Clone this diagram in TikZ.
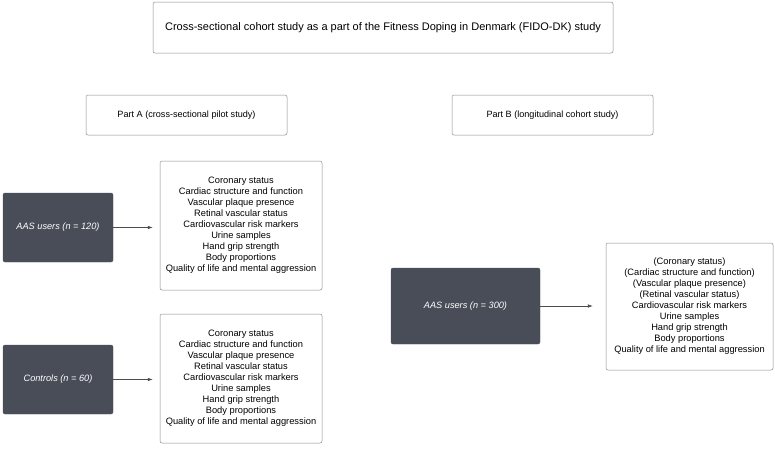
\documentclass[tikz,border=0pt]{standalone}
\usepackage{fontspec}
\setmainfont{Liberation Sans}
\usetikzlibrary{calc,positioning,arrows.meta}
\definecolor{groupfill}{HTML}{484D57}
\definecolor{boxline}{HTML}{8A8A8A}
\begin{document}
\begin{tikzpicture}[x=1pt,y=-1pt,
  every node/.style={align=center,inner sep=2pt},
  whitebox/.style={draw=boxline,rounded corners=2pt,fill=white,line width=0.5pt},
  groupbox/.style={draw=groupfill,fill=groupfill,rounded corners=2pt,text=white,font=\fontsize{9.2}{11}\selectfont\itshape,minimum width=110pt,minimum height=69pt},
  listbox/.style={whitebox,font=\fontsize{9.3}{11}\selectfont,minimum width=162pt,minimum height=129pt},
  flow/.style={-{Latex[length=5pt,width=3.5pt]},draw=black!70,line width=0.5pt}]
\useasboundingbox (0,0) rectangle (775,448);
\node [whitebox,minimum width=460pt,minimum height=51pt,font=\fontsize{11}{13}\selectfont] (Study) at (383,27.5) {Cross-sectional cohort study as a part of the Fitness Doping in Denmark (FIDO-DK) study};
\node [whitebox,minimum width=201pt,minimum height=40pt,font=\fontsize{9.1}{11}\selectfont] (PartA) at (186.5,115) {Part A (cross-sectional pilot study)};
\node [whitebox,minimum width=201pt,minimum height=40pt,font=\fontsize{9.1}{11}\selectfont] (PartB) at (552.5,115) {Part B (longitudinal cohort study)};
% part A
\node [groupbox] (UsersA) at (58,227.5) {AAS users (n = 120)};
\node [listbox] (ListUsersA) at (241,225.5) {Coronary status\\Cardiac structure and function\\Vascular plaque presence\\Retinal vascular status\\Cardiovascular risk markers\\Urine samples\\Hand grip strength\\Body proportions\\Quality of life and mental aggression};
\node [groupbox] (Controls) at (58,379.5) {Controls (n = 60)};
\node [listbox] (ListControls) at (241,378.5) {Coronary status\\Cardiac structure and function\\Vascular plaque presence\\Retinal vascular status\\Cardiovascular risk markers\\Urine samples\\Hand grip strength\\Body proportions\\Quality of life and mental aggression};
% part B
\node [groupbox,minimum width=149pt,minimum height=76pt] (UsersB) at (465.5,306) {AAS users (n = 300)};
\node [listbox,minimum width=167pt,minimum height=127pt] (ListUsersB) at (689.5,306.5) {(Coronary status)\\(Cardiac structure and function)\\(Vascular plaque presence)\\(Retinal vascular status)\\Cardiovascular risk markers\\Urine samples\\Hand grip strength\\Body proportions\\Quality of life and mental aggression};
\draw [flow] (UsersA.east) -- ($(ListUsersA.west |- UsersA.east)+(-7,0)$);
\draw [flow] (Controls.east) -- ($(ListControls.west |- Controls.east)+(-7,0)$);
\draw [flow] (UsersB.east) -- ($(ListUsersB.west |- UsersB.east)+(-13,0)$);
\end{tikzpicture}
\end{document}
